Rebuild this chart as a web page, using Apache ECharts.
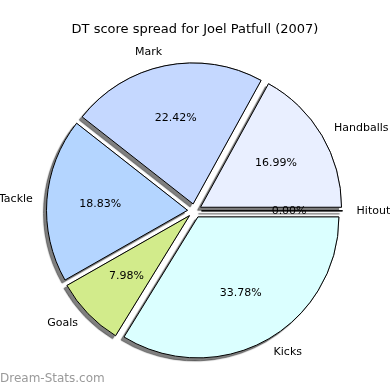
<!DOCTYPE html>
<html><head><meta charset="utf-8">
<script src="https://cdn.jsdelivr.net/npm/echarts@6/dist/echarts.min.js"></script>
<style>html,body{margin:0;padding:0;background:#fff}#c{width:390px;height:390px}</style>
</head><body><div id="c"></div>
<script>
var categories = ['Handballs', 'Mark', 'Tackle', 'Goals', 'Kicks', 'Hitout'];
var values = [16.99, 22.42, 18.83, 7.98, 33.78, 0.00];
var colors = ['#e9efff', '#c5d8ff', '#b4d5ff', '#d2eb8b', '#dbffff', '#ffffff'];
var titleText = 'DT score spread for Joel Patfull (2007)';

var R = 141, CX = 194.5, CY = 210.8, OFF = 7;
var font = 'DejaVu Sans';

function mkData(kind) {
  return categories.map(function (c, i) {
    var st;
    if (kind === 'shadow') st = { color: '#888', borderColor: '#888', borderWidth: 1,
        shadowColor: 'rgba(0,0,0,0.5)', shadowBlur: 1, shadowOffsetX: -3, shadowOffsetY: 3 };
    else if (kind === 'main') st = { color: colors[i], borderColor: '#000', borderWidth: 1 };
    else st = { color: 'rgba(0,0,0,0)', borderWidth: 0 };
    return { name: c, value: values[i], selected: true, itemStyle: st, select: { itemStyle: st } };
  });
}

function pieBase(z) {
  return { type: 'pie', center: [CX, CY], startAngle: 0, clockwise: false, z: z,
    selectedMode: 'multiple', selectedOffset: OFF, avoidLabelOverlap: false, silent: true,
    minShowLabelAngle: 0, emphasis: { disabled: true }, labelLine: { show: false } };
}

var s0 = pieBase(1);
s0.radius = [0, R]; s0.label = { show: false }; s0.data = mkData('shadow');
var s1 = pieBase(2);
s1.radius = [0, R];
s1.label = { show: true, position: 'outside', fontFamily: font, fontSize: 11, color: '#000',
  distanceToLabelLine: 0, formatter: '{b}' };
s1.labelLine = { show: false, length: R * 0.1, length2: 0 };
s1.data = mkData('main');
var s2 = pieBase(3);
s2.radius = [R * 0.5, R * 0.7];
s2.label = { show: true, position: 'inside', fontFamily: font, fontSize: 11, color: '#000',
  formatter: function (p) { return p.value.toFixed(2) + '%'; } };
s2.data = mkData('label');

var chart = echarts.init(document.getElementById('c'), null, { renderer: 'canvas' });
chart.setOption({
  animation: false,
  title: { text: titleText, left: 'center', top: 18,
    textStyle: { fontFamily: font, fontSize: 13, fontWeight: 'normal', color: '#000' } },
  graphic: [{ type: 'text', left: 0, top: 373,
    style: { text: 'Dream-Stats.com', fontFamily: font, fontSize: 12, fontWeight: 'normal', fill: '#9a9a9a' } }],
  series: [s0, s1, s2]
});
</script></body></html>
